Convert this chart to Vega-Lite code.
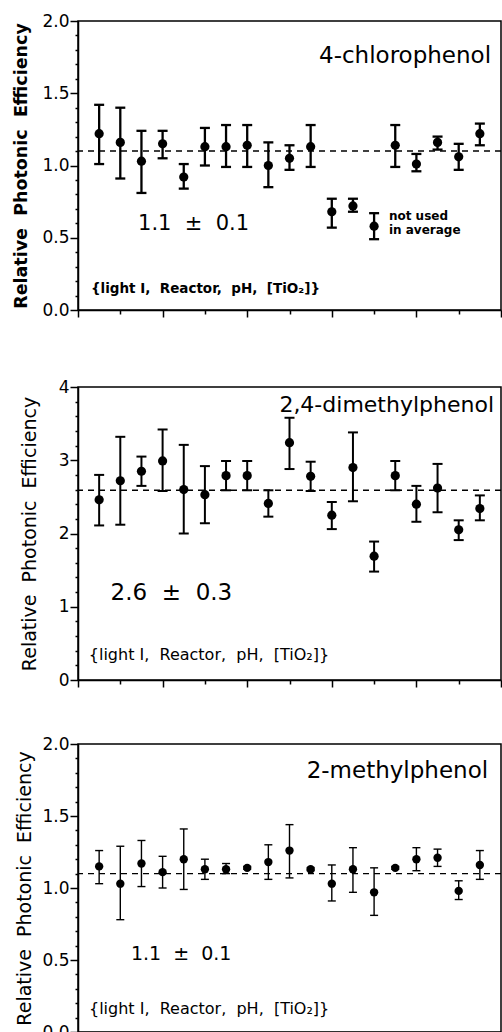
{
  "$schema": "https://vega.github.io/schema/vega-lite/v6.json",
  "background": "white",
  "padding": {"left": 11, "top": 11, "right": 0, "bottom": 0},
  "spacing": 45,
  "config": {
    "view": {"stroke": "black", "strokeWidth": 1.5},
    "axis": {"domainColor": "black", "tickColor": "black", "labelColor": "black", "titleColor": "black", "grid": false, "domainWidth": 1.5, "tickWidth": 1.5, "labelFont": "DejaVu Sans", "titleFont": "DejaVu Sans", "labelFlush": false, "labelOverlap": false},
    "text": {"font": "DejaVu Sans", "color": "black"}
  },
  "datasets": {
    "p1": [
      {"i": 1, "v": 1.22, "lo": 1.01, "hi": 1.42},
      {"i": 2, "v": 1.16, "lo": 0.91, "hi": 1.40},
      {"i": 3, "v": 1.03, "lo": 0.81, "hi": 1.24},
      {"i": 4, "v": 1.15, "lo": 1.05, "hi": 1.24},
      {"i": 5, "v": 0.92, "lo": 0.84, "hi": 1.01},
      {"i": 6, "v": 1.13, "lo": 1.00, "hi": 1.26},
      {"i": 7, "v": 1.13, "lo": 0.99, "hi": 1.28},
      {"i": 8, "v": 1.14, "lo": 0.99, "hi": 1.28},
      {"i": 9, "v": 1.00, "lo": 0.85, "hi": 1.16},
      {"i": 10, "v": 1.05, "lo": 0.97, "hi": 1.14},
      {"i": 11, "v": 1.13, "lo": 0.99, "hi": 1.28},
      {"i": 12, "v": 0.68, "lo": 0.57, "hi": 0.77},
      {"i": 13, "v": 0.72, "lo": 0.68, "hi": 0.77},
      {"i": 14, "v": 0.58, "lo": 0.49, "hi": 0.67},
      {"i": 15, "v": 1.14, "lo": 0.99, "hi": 1.28},
      {"i": 16, "v": 1.01, "lo": 0.96, "hi": 1.08},
      {"i": 17, "v": 1.16, "lo": 1.11, "hi": 1.20},
      {"i": 18, "v": 1.06, "lo": 0.97, "hi": 1.15},
      {"i": 19, "v": 1.22, "lo": 1.14, "hi": 1.29}
    ],
    "p2": [
      {"i": 1, "v": 2.46, "lo": 2.11, "hi": 2.80},
      {"i": 2, "v": 2.72, "lo": 2.12, "hi": 3.32},
      {"i": 3, "v": 2.85, "lo": 2.65, "hi": 3.05},
      {"i": 4, "v": 2.99, "lo": 2.58, "hi": 3.42},
      {"i": 5, "v": 2.60, "lo": 2.00, "hi": 3.21},
      {"i": 6, "v": 2.53, "lo": 2.14, "hi": 2.92},
      {"i": 7, "v": 2.79, "lo": 2.59, "hi": 2.99},
      {"i": 8, "v": 2.79, "lo": 2.59, "hi": 2.99},
      {"i": 9, "v": 2.41, "lo": 2.23, "hi": 2.59},
      {"i": 10, "v": 3.24, "lo": 2.88, "hi": 3.58},
      {"i": 11, "v": 2.78, "lo": 2.58, "hi": 2.98},
      {"i": 12, "v": 2.25, "lo": 2.06, "hi": 2.43},
      {"i": 13, "v": 2.90, "lo": 2.44, "hi": 3.38},
      {"i": 14, "v": 1.69, "lo": 1.48, "hi": 1.89},
      {"i": 15, "v": 2.79, "lo": 2.59, "hi": 2.99},
      {"i": 16, "v": 2.40, "lo": 2.16, "hi": 2.65},
      {"i": 17, "v": 2.62, "lo": 2.29, "hi": 2.95},
      {"i": 18, "v": 2.05, "lo": 1.91, "hi": 2.18},
      {"i": 19, "v": 2.34, "lo": 2.18, "hi": 2.52}
    ],
    "p3": [
      {"i": 1, "v": 1.15, "lo": 1.03, "hi": 1.26},
      {"i": 2, "v": 1.03, "lo": 0.78, "hi": 1.29},
      {"i": 3, "v": 1.17, "lo": 1.01, "hi": 1.33},
      {"i": 4, "v": 1.11, "lo": 1.00, "hi": 1.22},
      {"i": 5, "v": 1.20, "lo": 0.99, "hi": 1.41},
      {"i": 6, "v": 1.13, "lo": 1.06, "hi": 1.20},
      {"i": 7, "v": 1.13, "lo": 1.10, "hi": 1.17},
      {"i": 8, "v": 1.14, "lo": 1.13, "hi": 1.15},
      {"i": 9, "v": 1.18, "lo": 1.06, "hi": 1.30},
      {"i": 10, "v": 1.26, "lo": 1.07, "hi": 1.44},
      {"i": 11, "v": 1.13, "lo": 1.12, "hi": 1.14},
      {"i": 12, "v": 1.03, "lo": 0.91, "hi": 1.16},
      {"i": 13, "v": 1.13, "lo": 0.97, "hi": 1.28},
      {"i": 14, "v": 0.97, "lo": 0.81, "hi": 1.14},
      {"i": 15, "v": 1.14, "lo": 1.13, "hi": 1.15},
      {"i": 16, "v": 1.20, "lo": 1.12, "hi": 1.28},
      {"i": 17, "v": 1.21, "lo": 1.15, "hi": 1.27},
      {"i": 18, "v": 0.98, "lo": 0.92, "hi": 1.05},
      {"i": 19, "v": 1.16, "lo": 1.06, "hi": 1.26}
    ],
    "avg1": [{"avg": 1.10}],
    "avg2": [{"avg": 2.59}],
    "avg3": [{"avg": 1.10}]
  },
  "vconcat": [
    {
      "width": 423, "height": 289,
      "layer": [
        {"data": {"name": "p1"}, "mark": {"type": "rule", "strokeWidth": 2.3, "color": "black"},
          "encoding": {
            "x": {"field": "i", "type": "quantitative", "scale": {"domain": [0, 20], "nice": false, "zero": false},
              "axis": {"title": null, "values": [0,1,2,3,4,5,6,7,8,9,10,11,12,13,14,15,16,17,18,19,20], "labels": false, "minExtent": 21, "maxExtent": 21,
                "tickSize": {"condition": {"test": "datum.value % 4 == 0", "value": 7}, "value": 4}}},
            "y": {"field": "lo", "type": "quantitative", "scale": {"domain": [0, 2], "nice": false, "zero": false},
              "axis": {"title": "Relative \u00a0Photonic \u00a0Efficiency", "tickCount": 20,
                "labelExpr": "round(datum.value*10) % 5 == 0 ? format(datum.value, '.1f') : ''",
                "tickSize": {"condition": {"test": "round(datum.value*10) % 5 == 0", "value": 8}, "value": 3},
                "labelOverlap": false, "labelFlush": false,
                "labelFontSize": 17, "labelPadding": 1, "titleFontSize": 17.5, "titleFontWeight": "bold", "titlePadding": 11, "minExtent": 37, "maxExtent": 37}},
            "y2": {"field": "hi"}}},
        {"data": {"name": "avg1"}, "mark": {"type": "rule", "strokeDash": [6, 5], "strokeWidth": 1.5, "color": "black"},
          "encoding": {"y": {"field": "avg", "type": "quantitative", "scale": {"domain": [0, 2], "nice": false, "zero": false}}}},
        {"data": {"name": "p1"}, "mark": {"type": "rule", "strokeWidth": 2.3, "color": "black", "xOffset": -5, "x2Offset": 5},
          "encoding": {
            "x": {"field": "i", "type": "quantitative", "scale": {"domain": [0, 20], "nice": false, "zero": false}},
            "x2": {"field": "i"},
            "y": {"field": "lo", "type": "quantitative", "scale": {"domain": [0, 2], "nice": false, "zero": false}}}},
        {"data": {"name": "p1"}, "mark": {"type": "rule", "strokeWidth": 2.3, "color": "black", "xOffset": -5, "x2Offset": 5},
          "encoding": {
            "x": {"field": "i", "type": "quantitative", "scale": {"domain": [0, 20], "nice": false, "zero": false}},
            "x2": {"field": "i"},
            "y": {"field": "hi", "type": "quantitative", "scale": {"domain": [0, 2], "nice": false, "zero": false}}}},
        {"data": {"name": "p1"}, "mark": {"type": "point", "filled": true, "size": 85, "opacity": 1, "color": "black"},
          "encoding": {
            "x": {"field": "i", "type": "quantitative", "scale": {"domain": [0, 20], "nice": false, "zero": false}},
            "y": {"field": "v", "type": "quantitative", "scale": {"domain": [0, 2], "nice": false, "zero": false}}}},
        {"data": {"values": [{"t": "4-chlorophenol", "x": 19.53, "y": 1.76}]}, "mark": {"type": "text", "align": "right", "baseline": "middle", "fontSize": 23, "fill": "black"},
          "encoding": {
            "x": {"field": "x", "type": "quantitative", "scale": {"domain": [0, 20], "nice": false, "zero": false}},
            "y": {"field": "y", "type": "quantitative", "scale": {"domain": [0, 2], "nice": false, "zero": false}},
            "text": {"field": "t"}}},
        {"data": {"values": [{"t": "1.1 \u00a0± \u00a00.1", "x": 2.84, "y": 0.595}]}, "mark": {"type": "text", "align": "left", "baseline": "middle", "fontSize": 21, "fill": "black"},
          "encoding": {
            "x": {"field": "x", "type": "quantitative", "scale": {"domain": [0, 20], "nice": false, "zero": false}},
            "y": {"field": "y", "type": "quantitative", "scale": {"domain": [0, 2], "nice": false, "zero": false}},
            "text": {"field": "t"}}},
        {"data": {"values": [{"t": "not used", "x": 14.7, "y": 0.65}, {"t": "in average", "x": 14.7, "y": 0.555}]}, "mark": {"type": "text", "align": "left", "baseline": "middle", "fontSize": 12, "fontWeight": "bold", "fill": "black"},
          "encoding": {
            "x": {"field": "x", "type": "quantitative", "scale": {"domain": [0, 20], "nice": false, "zero": false}},
            "y": {"field": "y", "type": "quantitative", "scale": {"domain": [0, 2], "nice": false, "zero": false}},
            "text": {"field": "t"}}},
        {"data": {"values": [{"t": "{light I,\u00a0 Reactor,\u00a0 pH,\u00a0 [TiO₂]}", "x": 0.61, "y": 0.145}]}, "mark": {"type": "text", "align": "left", "baseline": "middle", "fontSize": 13.5, "fontWeight": "bold", "fill": "black"},
          "encoding": {
            "x": {"field": "x", "type": "quantitative", "scale": {"domain": [0, 20], "nice": false, "zero": false}},
            "y": {"field": "y", "type": "quantitative", "scale": {"domain": [0, 2], "nice": false, "zero": false}},
            "text": {"field": "t"}}}
      ]
    },
    {
      "width": 423, "height": 293,
      "layer": [
        {"data": {"name": "p2"}, "mark": {"type": "rule", "strokeWidth": 2, "color": "black"},
          "encoding": {
            "x": {"field": "i", "type": "quantitative", "scale": {"domain": [0, 20], "nice": false, "zero": false},
              "axis": {"title": null, "values": [0,1,2,3,4,5,6,7,8,9,10,11,12,13,14,15,16,17,18,19,20], "labels": false,
                "tickSize": {"condition": {"test": "datum.value % 4 == 0", "value": 7}, "value": 4}}},
            "y": {"field": "lo", "type": "quantitative", "scale": {"domain": [0, 4], "nice": false, "zero": false},
              "axis": {"title": "Relative \u00a0Photonic \u00a0Efficiency", "tickCount": 20,
                "labelExpr": "round(datum.value*10) % 10 == 0 ? format(datum.value, 'd') : ''",
                "tickSize": {"condition": {"test": "round(datum.value*10) % 10 == 0", "value": 8}, "value": 3},
                "labelOverlap": false, "labelFlush": false,
                "labelFontSize": 17, "labelPadding": 1, "titleFontSize": 19, "titleFontWeight": "normal", "titlePadding": 18, "minExtent": 21, "maxExtent": 21}},
            "y2": {"field": "hi"}}},
        {"data": {"name": "avg2"}, "mark": {"type": "rule", "strokeDash": [6, 5], "strokeWidth": 1.5, "color": "black"},
          "encoding": {"y": {"field": "avg", "type": "quantitative", "scale": {"domain": [0, 4], "nice": false, "zero": false}}}},
        {"data": {"name": "p2"}, "mark": {"type": "rule", "strokeWidth": 2, "color": "black", "xOffset": -5, "x2Offset": 5},
          "encoding": {
            "x": {"field": "i", "type": "quantitative", "scale": {"domain": [0, 20], "nice": false, "zero": false}},
            "x2": {"field": "i"},
            "y": {"field": "lo", "type": "quantitative", "scale": {"domain": [0, 4], "nice": false, "zero": false}}}},
        {"data": {"name": "p2"}, "mark": {"type": "rule", "strokeWidth": 2, "color": "black", "xOffset": -5, "x2Offset": 5},
          "encoding": {
            "x": {"field": "i", "type": "quantitative", "scale": {"domain": [0, 20], "nice": false, "zero": false}},
            "x2": {"field": "i"},
            "y": {"field": "hi", "type": "quantitative", "scale": {"domain": [0, 4], "nice": false, "zero": false}}}},
        {"data": {"name": "p2"}, "mark": {"type": "point", "filled": true, "size": 85, "opacity": 1, "color": "black"},
          "encoding": {
            "x": {"field": "i", "type": "quantitative", "scale": {"domain": [0, 20], "nice": false, "zero": false}},
            "y": {"field": "v", "type": "quantitative", "scale": {"domain": [0, 4], "nice": false, "zero": false}}}},
        {"data": {"values": [{"t": "2,4-dimethylphenol", "x": 19.67, "y": 3.75}]}, "mark": {"type": "text", "align": "right", "baseline": "middle", "fontSize": 22, "fill": "black"},
          "encoding": {
            "x": {"field": "x", "type": "quantitative", "scale": {"domain": [0, 20], "nice": false, "zero": false}},
            "y": {"field": "y", "type": "quantitative", "scale": {"domain": [0, 4], "nice": false, "zero": false}},
            "text": {"field": "t"}}},
        {"data": {"values": [{"t": "2.6 \u00a0± \u00a00.3", "x": 1.54, "y": 1.19}]}, "mark": {"type": "text", "align": "left", "baseline": "middle", "fontSize": 23, "fill": "black"},
          "encoding": {
            "x": {"field": "x", "type": "quantitative", "scale": {"domain": [0, 20], "nice": false, "zero": false}},
            "y": {"field": "y", "type": "quantitative", "scale": {"domain": [0, 4], "nice": false, "zero": false}},
            "text": {"field": "t"}}},
        {"data": {"values": [{"t": "{light I,\u00a0 Reactor,\u00a0 pH,\u00a0 [TiO₂]}", "x": 0.51, "y": 0.34}]}, "mark": {"type": "text", "align": "left", "baseline": "middle", "fontSize": 16, "fill": "black"},
          "encoding": {
            "x": {"field": "x", "type": "quantitative", "scale": {"domain": [0, 20], "nice": false, "zero": false}},
            "y": {"field": "y", "type": "quantitative", "scale": {"domain": [0, 4], "nice": false, "zero": false}},
            "text": {"field": "t"}}}
      ]
    },
    {
      "width": 423, "height": 288,
      "layer": [
        {"data": {"name": "p3"}, "mark": {"type": "rule", "strokeWidth": 1.4, "color": "black"},
          "encoding": {
            "x": {"field": "i", "type": "quantitative", "scale": {"domain": [0, 20], "nice": false, "zero": false},
              "axis": {"title": null, "values": [0,1,2,3,4,5,6,7,8,9,10,11,12,13,14,15,16,17,18,19,20], "labels": false,
                "tickSize": {"condition": {"test": "datum.value % 4 == 0", "value": 7}, "value": 4}}},
            "y": {"field": "lo", "type": "quantitative", "scale": {"domain": [0, 2], "nice": false, "zero": false},
              "axis": {"title": "Relative \u00a0Photonic \u00a0Efficiency", "tickCount": 20,
                "labelExpr": "round(datum.value*10) % 5 == 0 ? format(datum.value, '.1f') : ''",
                "tickSize": {"condition": {"test": "round(datum.value*10) % 5 == 0", "value": 8}, "value": 3},
                "labelOverlap": false, "labelFlush": false,
                "labelFontSize": 17, "labelPadding": 1, "titleFontSize": 19, "titleFontWeight": "normal", "titlePadding": 7, "minExtent": 37, "maxExtent": 37}},
            "y2": {"field": "hi"}}},
        {"data": {"name": "avg3"}, "mark": {"type": "rule", "strokeDash": [6, 5], "strokeWidth": 1.3, "color": "black"},
          "encoding": {"y": {"field": "avg", "type": "quantitative", "scale": {"domain": [0, 2], "nice": false, "zero": false}}}},
        {"data": {"name": "p3"}, "mark": {"type": "rule", "strokeWidth": 1.4, "color": "black", "xOffset": -4, "x2Offset": 4},
          "encoding": {
            "x": {"field": "i", "type": "quantitative", "scale": {"domain": [0, 20], "nice": false, "zero": false}},
            "x2": {"field": "i"},
            "y": {"field": "lo", "type": "quantitative", "scale": {"domain": [0, 2], "nice": false, "zero": false}}}},
        {"data": {"name": "p3"}, "mark": {"type": "rule", "strokeWidth": 1.4, "color": "black", "xOffset": -4, "x2Offset": 4},
          "encoding": {
            "x": {"field": "i", "type": "quantitative", "scale": {"domain": [0, 20], "nice": false, "zero": false}},
            "x2": {"field": "i"},
            "y": {"field": "hi", "type": "quantitative", "scale": {"domain": [0, 2], "nice": false, "zero": false}}}},
        {"data": {"name": "p3"}, "mark": {"type": "point", "filled": true, "size": 70, "opacity": 1, "color": "black"},
          "encoding": {
            "x": {"field": "i", "type": "quantitative", "scale": {"domain": [0, 20], "nice": false, "zero": false}},
            "y": {"field": "v", "type": "quantitative", "scale": {"domain": [0, 2], "nice": false, "zero": false}}}},
        {"data": {"values": [{"t": "2-methylphenol", "x": 19.39, "y": 1.81}]}, "mark": {"type": "text", "align": "right", "baseline": "middle", "fontSize": 23, "fill": "black"},
          "encoding": {
            "x": {"field": "x", "type": "quantitative", "scale": {"domain": [0, 20], "nice": false, "zero": false}},
            "y": {"field": "y", "type": "quantitative", "scale": {"domain": [0, 2], "nice": false, "zero": false}},
            "text": {"field": "t"}}},
        {"data": {"values": [{"t": "1.1 \u00a0± \u00a00.1", "x": 2.5, "y": 0.54}]}, "mark": {"type": "text", "align": "left", "baseline": "middle", "fontSize": 19, "fill": "black"},
          "encoding": {
            "x": {"field": "x", "type": "quantitative", "scale": {"domain": [0, 20], "nice": false, "zero": false}},
            "y": {"field": "y", "type": "quantitative", "scale": {"domain": [0, 2], "nice": false, "zero": false}},
            "text": {"field": "t"}}},
        {"data": {"values": [{"t": "{light I,\u00a0 Reactor,\u00a0 pH,\u00a0 [TiO₂]}", "x": 0.52, "y": 0.16}]}, "mark": {"type": "text", "align": "left", "baseline": "middle", "fontSize": 16, "fill": "black"},
          "encoding": {
            "x": {"field": "x", "type": "quantitative", "scale": {"domain": [0, 20], "nice": false, "zero": false}},
            "y": {"field": "y", "type": "quantitative", "scale": {"domain": [0, 2], "nice": false, "zero": false}},
            "text": {"field": "t"}}}
      ]
    }
  ]
}
